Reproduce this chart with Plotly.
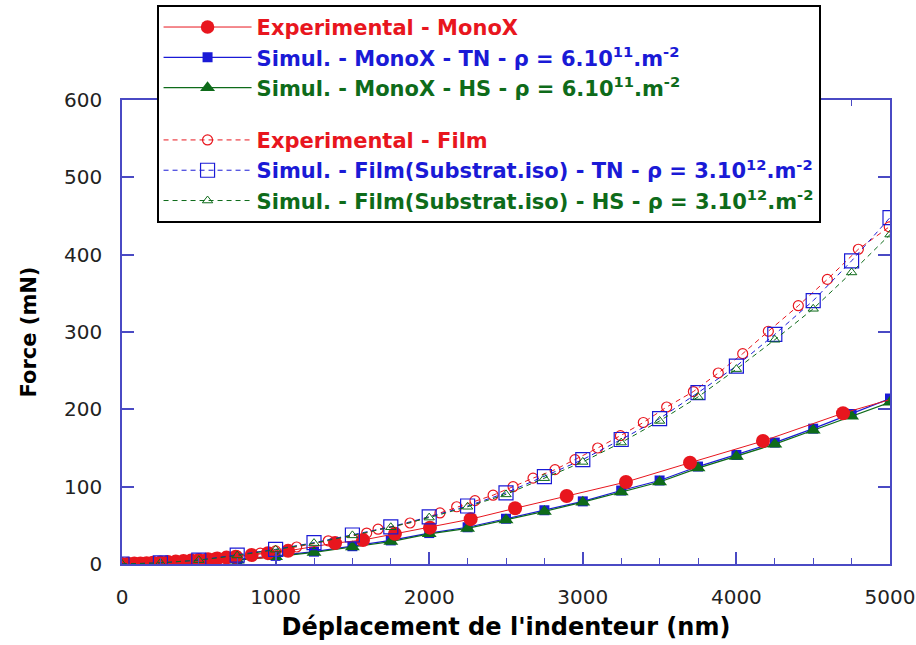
import plotly.graph_objects as go

# ---------------- data ----------------
exp_mono_x = [0, 40, 80, 120, 160, 200, 250, 300, 350, 400, 450, 500, 560, 620, 680, 740,
              844, 950, 1081, 1387, 1569, 1777, 2005, 2270, 2559, 2895, 3281, 3698, 4173, 4694, 4990]
exp_mono_y = [0, 0.2, 0.5, 0.8, 1.1, 1.5, 2, 2.5, 3.1, 3.8, 4.5, 5.3, 6.2, 7.2, 8.3, 9.4,
              11.6, 14, 17, 27, 31, 39, 47, 58, 72, 88, 106, 131, 159, 195, 212]

sim_x = [0, 250, 500, 750, 1000, 1250, 1500, 1750, 2000, 2250, 2500, 2750,
         3000, 3250, 3500, 3750, 4000, 4250, 4500, 4750, 5000]
sim_mono_tn = [0, 1.2, 3.5, 6, 10.5, 16, 23, 30.5, 40, 47.5, 58.5, 69.5,
               81, 95, 108, 126, 141, 157, 175, 194, 214]
sim_mono_hs = [0, 1, 3, 5, 9.5, 15, 22, 29, 39, 46, 57, 68,
               80, 93, 106, 124, 139, 155, 173, 191, 209]

exp_film_x = [0, 150, 300, 450, 600, 750, 900, 1000, 1137, 1343, 1593, 1667, 1875, 2070,
              2179, 2298, 2416, 2546, 2676, 2819, 2949, 3097, 3245, 3394, 3546, 3720,
              3882, 4041, 4208, 4403, 4592, 4794, 4995]
exp_film_y = [0, 1.5, 3, 5, 7.5, 10.5, 14, 17, 22, 30, 40, 45, 53, 66,
              74, 82, 89, 100, 111, 122, 135, 150, 166, 183, 203, 223,
              247, 272, 301, 334, 368, 407, 436]

sim_film_tn = [0, 1.5, 5, 11.6, 19, 27.6, 37.5, 48, 61, 75, 92, 113,
               135, 161, 188, 221.5, 256, 297, 340.5, 392, 448]
sim_film_hs = [0, 1.5, 5, 11, 18.5, 27, 37, 47.5, 60, 74, 90, 111,
               132, 157, 185, 216, 252, 290, 330, 377, 426]

x_ticks = [0, 1000, 2000, 3000, 4000, 5000]
y_ticks = [0, 100, 200, 300, 400, 500, 600]

# ---------------- styles ----------------
RED = "#e8161e"
BLUE = "#1a1ad6"
GREEN = "#0e6b1a"
AXIS = "#4a4ac4"

def lab(text, color):
    return f"<span style='color:{color}'><b>{text}</b></span>"

fig = go.Figure()

exp_sizes = [14] * (len(exp_mono_x) - 1) + [0]

fig.add_trace(go.Scatter(
    x=sim_x, y=sim_mono_tn, mode="lines+markers", legendrank=2,
    name=lab("Simul. - MonoX - TN - ρ = 6.10<sup>11</sup>.m<sup>-2</sup>", BLUE), legendgroup="a",
    line=dict(color=BLUE, width=1.2),
    marker=dict(symbol="square", size=10, color=BLUE, line=dict(width=0))))

fig.add_trace(go.Scatter(
    x=sim_x, y=sim_mono_hs, mode="lines+markers", legendrank=3,
    name=lab("Simul. - MonoX - HS - ρ = 6.10<sup>11</sup>.m<sup>-2</sup>", GREEN), legendgroup="a",
    line=dict(color=GREEN, width=1.2),
    marker=dict(symbol="triangle-up", size=13, color=GREEN, line=dict(width=0))))

fig.add_trace(go.Scatter(
    x=exp_mono_x, y=exp_mono_y, mode="lines+markers", legendrank=1,
    name=lab("Experimental - MonoX", RED), legendgroup="a",
    line=dict(color=RED, width=1),
    marker=dict(symbol="circle", size=exp_sizes, color=RED, opacity=1, line=dict(width=0))))

fig.add_trace(go.Scatter(
    x=exp_film_x, y=exp_film_y, mode="lines+markers", legendrank=4,
    name=lab("Experimental - Film", RED), legendgroup="b",
    line=dict(color=RED, width=1, dash="5px,4px"),
    marker=dict(symbol="circle-open", size=10, color=RED, line=dict(width=1.2))))

fig.add_trace(go.Scatter(
    x=sim_x, y=sim_film_tn, mode="lines+markers", legendrank=5,
    name=lab("Simul. - Film(Substrat.iso) - TN - ρ = 3.10<sup>12</sup>.m<sup>-2</sup>", BLUE), legendgroup="b",
    line=dict(color=BLUE, width=1, dash="5px,4px"),
    marker=dict(symbol="square-open", size=14, color=BLUE, line=dict(width=1.2))))

fig.add_trace(go.Scatter(
    x=sim_x, y=sim_film_hs, mode="lines+markers", legendrank=6,
    name=lab("Simul. - Film(Substrat.iso) - HS - ρ = 3.10<sup>12</sup>.m<sup>-2</sup>", GREEN), legendgroup="b",
    line=dict(color=GREEN, width=1, dash="5px,4px"),
    marker=dict(symbol="triangle-up-open", size=9, color=GREEN, line=dict(width=1))))

FONT = "DejaVu Sans, Arial, sans-serif"

fig.update_layout(
    width=916, height=645,
    margin=dict(l=122, r=26, t=100, b=81, autoexpand=False),
    paper_bgcolor="white", plot_bgcolor="white",
    font=dict(family=FONT, color="#222"),
    showlegend=True,
    legend=dict(
        x=0.045, y=1.205, xanchor="left", yanchor="top",
        bgcolor="white", bordercolor="black", borderwidth=2,
        font=dict(family=FONT, size=21),
        traceorder="grouped", tracegroupgap=22,
        itemwidth=88,
    ),
    xaxis=dict(
        range=[0, 5000], tickvals=x_ticks, ticktext=[str(v) for v in x_ticks],
        showgrid=False, zeroline=False,
        showline=True, linecolor=AXIS, linewidth=1.5, mirror="allticks",
        ticks="inside", ticklen=12, tickcolor=AXIS, tickwidth=1.5,
        minor=dict(dtick=250, ticks="inside", ticklen=6, tickcolor=AXIS, tickwidth=1.2),
        tickfont=dict(size=20, color="#222"), ticklabelstandoff=14,
        ticklabeloverflow="allow",
        title=dict(text="<b>Déplacement de l'indenteur (nm)</b>",
                   font=dict(size=24, color="black"), standoff=10),
    ),
    yaxis=dict(
        range=[0, 600], tickvals=y_ticks, ticktext=[str(v) for v in y_ticks],
        showgrid=False, zeroline=False,
        showline=True, linecolor=AXIS, linewidth=1.5, mirror="allticks",
        ticks="inside", ticklen=12, tickcolor=AXIS, tickwidth=1.5,
        tickfont=dict(size=20, color="#222"), ticklabelstandoff=14,
        title=dict(text="<b>Force (mN)</b>", font=dict(size=21, color="black"), standoff=22),
    ),
)

fig.write_html("out.html", config={"displayModeBar": False},
               post_script="document.body.style.margin='0px';")
